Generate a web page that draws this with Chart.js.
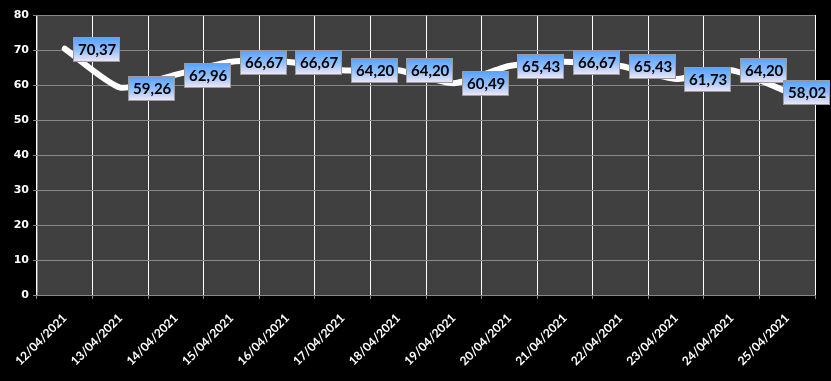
<!DOCTYPE html>
<html>
<head>
<meta charset="utf-8">
<script src="https://cdn.jsdelivr.net/npm/chart.js@4.4.1/dist/chart.umd.min.js"></script>
<style>
    html, body { margin: 0; padding: 0; background: #000; }
    #wrap { width: 831px; height: 381px; position: relative; }
</style>
</head>
<body>
<div id="wrap"><canvas id="grafico"></canvas></div>
<script>
// Datas e valores
const datas = ['12/04/2021', '13/04/2021', '14/04/2021', '15/04/2021', '16/04/2021', '17/04/2021', '18/04/2021',
    '19/04/2021', '20/04/2021', '21/04/2021', '22/04/2021', '23/04/2021', '24/04/2021', '25/04/2021'];
const valores = [70.37, 59.26, 62.96, 66.67, 66.67, 64.20, 64.20, 60.49, 65.43, 66.67, 65.43, 61.73, 64.20, 58.02];
const ticksY = [0, 10, 20, 30, 40, 50, 60, 70, 80];

const fonte = 'Lato, "Open Sans", sans-serif';

// Fundo cinza da área de plotagem
const fundoArea = {
    id: 'fundoArea',
    beforeDraw(chart) {
        const a = chart.chartArea;
        const ctx = chart.ctx;
        ctx.save();
        ctx.fillStyle = '#404040';
        ctx.fillRect(a.left, a.top, a.right - a.left, a.bottom - a.top);
        ctx.restore();
    }
};

// Rótulos de dados em caixinhas com degradê (estilo Excel)
const rotulos = {
    id: 'rotulos',
    afterDatasetsDraw(chart) {
        const ctx = chart.ctx;
        const meta = chart.getDatasetMeta(0);
        ctx.save();
        ctx.font = 'bold 15px ' + fonte;
        ctx.textBaseline = 'middle';
        ctx.textAlign = 'left';
        meta.data.forEach((pt, i) => {
            const texto = valores[i].toFixed(2).replace('.', ',');
            const w = Math.round(ctx.measureText(texto).width) + 9;
            const h = 25;
            let x = Math.round(pt.x + 8);
            if (x + w > chart.width - 1) x = chart.width - 1 - w;
            const y = Math.round(pt.y - 12);
            const grad = ctx.createLinearGradient(0, y, 0, y + h);
            grad.addColorStop(0, '#55a0ff');
            grad.addColorStop(0.5, '#8cbeff');
            grad.addColorStop(1, '#f6e8f4');
            ctx.fillStyle = grad;
            ctx.fillRect(x, y, w, h);
            ctx.strokeStyle = '#9a9a9a';
            ctx.lineWidth = 1;
            ctx.strokeRect(x + 0.5, y + 0.5, w - 1, h - 1);
            ctx.fillStyle = '#000';
            ctx.fillText(texto, x + 5, y + h / 2 + 1);
        });
        ctx.restore();
    }
};

new Chart(document.getElementById('grafico').getContext('2d'), {
    type: 'line',
    data: {
        labels: datas,
        datasets: [{
            data: valores,
            borderColor: '#ffffff',
            borderWidth: 6,
            borderCapStyle: 'round',
            tension: 0.2,
            pointRadius: 0,
            fill: false
        }]
    },
    options: {
        responsive: true,
        maintainAspectRatio: false,
        animation: false,
        layout: { padding: { top: 15, right: 16, left: 0, bottom: 0 } },
        plugins: {
            legend: { display: false },
            tooltip: { enabled: false }
        },
        scales: {
            x: {
                offset: true,
                afterFit: s => { s.height = 86; },
                grid: { offset: true, color: '#ffffff', tickColor: '#888888', tickLength: 4, lineWidth: 1 },
                border: { color: '#888888' },
                ticks: {
                    color: '#ffffff',
                    font: { family: fonte, size: 12, weight: 'bold' },
                    minRotation: 45,
                    maxRotation: 45,
                    autoSkip: false,
                    padding: 12
                }
            },
            y: {
                min: 0,
                max: 80,
                afterFit: s => { s.width = 37; },
                afterBuildTicks: s => { s.ticks = ticksY.map(v => ({ value: v })); },
                grid: { color: '#888888', tickColor: '#888888', tickLength: 4 },
                border: { color: '#888888' },
                ticks: {
                    color: '#ffffff',
                    font: { family: '"DejaVu Sans", sans-serif', size: 11, weight: 'bold' },
                    padding: 4
                }
            }
        }
    },
    plugins: [fundoArea, rotulos]
});
</script>
</body>
</html>
